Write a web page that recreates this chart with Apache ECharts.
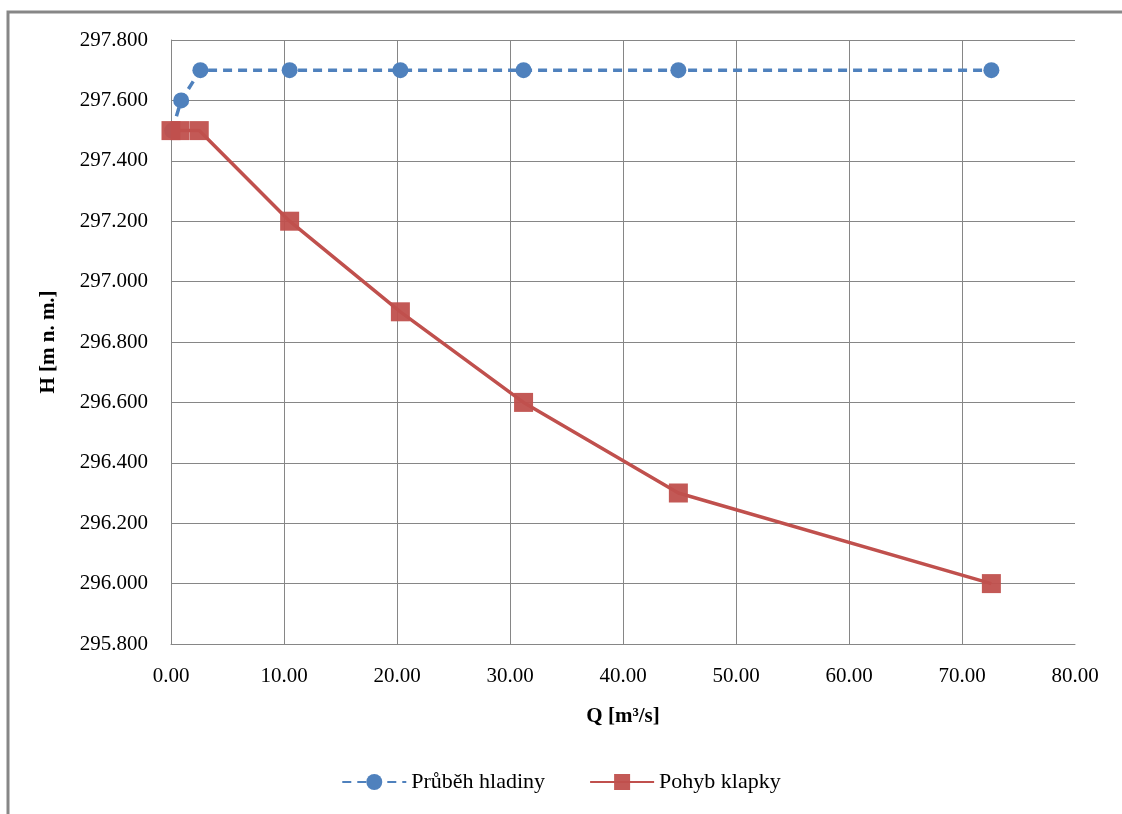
<!DOCTYPE html>
<html><head><meta charset="utf-8">
<script src="https://cdn.jsdelivr.net/npm/echarts@6/dist/echarts.min.js"></script>
<style>html,body{margin:0;padding:0;background:#fff}#c{width:1122px;height:814px}</style>
</head><body><div id="c"></div>
<script>
var qHladina = [0.1, 0.9, 2.6, 10.5, 20.3, 31.2, 44.9, 72.6];
var hHladina = [297.5, 297.6, 297.7, 297.7, 297.7, 297.7, 297.7, 297.7];
var qKlapka = [0.0, 0.8, 2.5, 10.5, 20.3, 31.2, 44.9, 72.6];
var hKlapka = [297.5, 297.5, 297.5, 297.2, 296.9, 296.6, 296.3, 296.0];
var seriesNames = ['Průběh hladiny', 'Pohyb klapky'];
var xAxisName = 'Q [m³/s]';
var yAxisName = 'H [m n. m.]';

function pairs(xs, ys){ return xs.map(function(x,i){ return [x, ys[i]]; }); }
var font = 'Liberation Serif, Times New Roman, serif';
var chart = echarts.init(document.getElementById('c'));
chart.setOption({
  animation: false,
  backgroundColor: '#fff',
  graphic: [{type:'rect', shape:{x:8, y:12, width:1300, height:1000}, style:{fill:'none', stroke:'#878787', lineWidth:3}}],
  grid: {left:171, right:47, top:40, bottom:170},
  legend: {
    bottom: 16, left: 'center', itemWidth: 64, itemHeight: 20, itemGap: 44,
    textStyle: {fontFamily: font, fontSize: 22, color:'#000'},
    data: seriesNames
  },
  xAxis: {
    type:'value', min:0, max:80, interval:10,
    name: xAxisName, nameLocation:'middle', nameGap:62,
    nameTextStyle:{fontFamily:font, fontSize:21, fontWeight:'bold', color:'#000'},
    axisLine:{show:true, lineStyle:{color:'#868686', width:1}},
    axisTick:{show:false},
    axisLabel:{fontFamily:font, fontSize:21, color:'#000', margin:22, formatter:function(v){return v.toFixed(2);}},
    splitLine:{show:true, lineStyle:{color:['#868686','#868686','#868686','#868686','#868686','#868686','#868686','#868686','transparent'], width:1}}
  },
  yAxis: {
    type:'value', min:295.8, max:297.8, interval:0.2,
    name: yAxisName, nameLocation:'middle', nameGap:112, nameRotate:90,
    nameTextStyle:{fontFamily:font, fontSize:21, fontWeight:'bold', color:'#000'},
    axisLine:{show:true, lineStyle:{color:'#868686', width:1}},
    axisTick:{show:false},
    axisLabel:{fontFamily:font, fontSize:21, color:'#000', margin:23, formatter:function(v){return v.toFixed(3);}},
    splitLine:{show:true, lineStyle:{color:'#868686', width:1}}
  },
  series: [
    {name: seriesNames[0], type:'line', data: pairs(qHladina, hHladina),
     symbol:'circle', symbolSize:16, z:2,
     lineStyle:{color:'#4F81BD', width:3.5, type:[9,6]},
     itemStyle:{color:'#4F81BD'}},
    {name: seriesNames[1], type:'line', data: pairs(qKlapka, hKlapka),
     symbol:'rect', symbolSize:19, z:3,
     lineStyle:{color:'#C0504D', width:3.5},
     itemStyle:{color:'#C0504D', opacity:0.95}}
  ]
});
</script></body></html>
